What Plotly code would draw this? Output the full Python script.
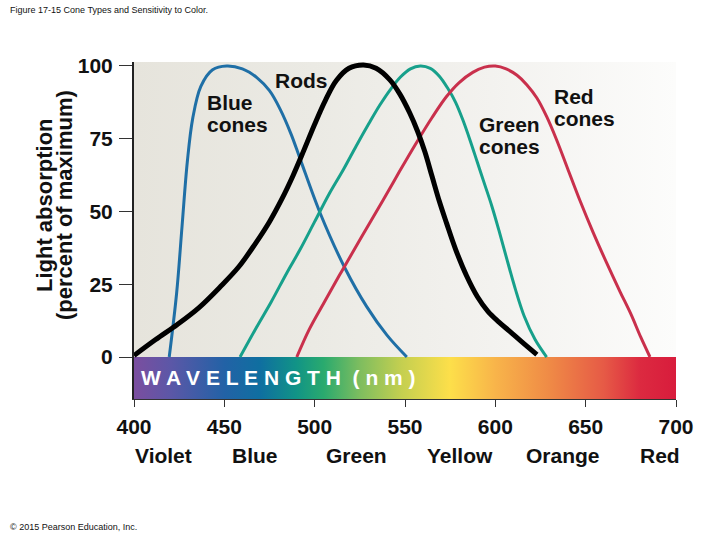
import plotly.graph_objects as go

# ---- data ----
blue_x = [419.5, 423.6, 426.6, 429.5, 432.5, 437.0, 443.5, 451.3, 460.0, 468.0, 475.0, 481.0,
          487.0, 492.0, 503.0, 516.8, 528.8, 540.0, 551.0]
blue_y = [0, 22.0, 45.0, 67.0, 82.0, 93.0, 98.7, 100, 99.0, 96.0, 91.5, 85.0,
          76.5, 68.0, 49.5, 30.5, 17.3, 7.5, 0]

rods_x = [400, 412, 424, 436, 448, 458, 467, 475, 482, 488, 494, 500, 506, 512, 519, 527,
          534, 541.5, 547, 552.5, 557, 561, 565, 569, 573, 578, 584, 590, 596, 602, 608, 615, 623]
rods_y = [0.5, 6.0, 11.2, 17.0, 24.3, 31.0, 38.8, 46.5, 54.5, 62.3, 71.0, 80.0, 88.3, 95.0,
          99.2, 100.3, 99.2, 95.3, 90.5, 84.0, 77.5, 70.5, 62.0, 53.5, 46.0, 37.0, 28.0, 20.8,
          15.6, 12.0, 8.8, 5.0, 0.8]

green_x = [458.7, 468, 476, 484.5, 492, 500, 508, 516, 523, 530, 536, 542, 547.5, 553, 558.5,
           564, 569, 573.5, 578, 582, 586, 590, 594, 598, 602, 606, 611, 616, 622, 628.4]
green_y = [0, 10.4, 19.0, 28.8, 37.0, 46.5, 56.0, 64.5, 72.5, 80.2, 86.5, 92.0, 96.2, 99.0, 100,
           99.2, 96.5, 92.5, 87.5, 81.5, 74.5, 67.0, 59.5, 52.0, 43.5, 34.5, 23.5, 14.0, 6.0, 0]

red_x = [490.1, 497, 505, 515, 526, 538, 547, 556.5, 565, 573, 580, 587.5, 594, 600, 606, 612,
         617.5, 623, 628.5, 634, 640, 647, 654, 661.5, 669, 675, 680.5, 685.6]
red_y = [0, 9.5, 18.5, 29.5, 41.3, 54.0, 63.8, 73.8, 82.3, 89.5, 94.3, 97.8, 99.6, 100, 99.0,
         96.8, 93.5, 89.0, 82.5, 74.5, 64.8, 53.5, 43.0, 32.5, 22.5, 14.8, 6.8, 0]

x_ticks = [400, 450, 500, 550, 600, 650, 700]
y_ticks = [0, 25, 50, 75, 100]
color_names = ["Violet", "Blue", "Green", "Yellow", "Orange", "Red"]
color_name_nm = [416.6, 466.8, 523.2, 580.7, 637.5, 691.0]

FONT = "Arial, Liberation Sans, sans-serif"
X0, X1 = 400, 700
Y0, Y1 = -14.43, 101.37

spectrum_scale = [
    [0.000, "#7b4e9f"], [0.067, "#5c57a7"], [0.167, "#2262a6"], [0.233, "#0f6fa0"],
    [0.300, "#119486"], [0.350, "#2aaa6e"], [0.417, "#7ebd5f"], [0.493, "#c4cf50"],
    [0.583, "#fddf4a"], [0.667, "#f8b44a"], [0.767, "#ef8a46"], [0.867, "#e65a46"],
    [0.933, "#dc2a40"], [1.000, "#d81c3c"],
]
bg_scale = [[0, "#e6e4dc"], [0.33, "#ebeae4"], [0.66, "#f3f2ef"], [1, "#fcfcfb"]]

fig = go.Figure()

# plot background gradient
fig.add_trace(go.Scatter(
    x=[X0, X1, X1, X0, X0], y=[0, 0, Y1, Y1, 0], mode="lines", fill="toself",
    line=dict(width=0), fillgradient=dict(type="horizontal", colorscale=bg_scale),
    hoverinfo="skip", showlegend=False))

# spectrum bar
fig.add_trace(go.Scatter(
    x=[X0, X1, X1, X0, X0], y=[Y0, Y0, 0, 0, Y0], mode="lines", fill="toself",
    line=dict(width=0), fillgradient=dict(type="horizontal", colorscale=spectrum_scale),
    hoverinfo="skip", showlegend=False))

curves = [
    (blue_x, blue_y, "#1f6fa6", 3),
    (green_x, green_y, "#17a08b", 3),
    (red_x, red_y, "#c9304c", 3),
    (rods_x, rods_y, "#000000", 5),
]
for xs, ys, col, w in curves:
    fig.add_trace(go.Scatter(x=xs, y=ys, mode="lines",
                             line=dict(color=col, width=w, shape="spline", smoothing=1.0),
                             hoverinfo="skip", showlegend=False))

ann = []
def lab(text, x, y, anchor="left", size=21, bold=True, color="#111", xref="x", yref="y", angle=0):
    ann.append(dict(text=f"<b>{text}</b>" if bold else text, x=x, y=y, xref=xref, yref=yref,
                    xanchor=anchor, yanchor="middle", showarrow=False, textangle=angle,
                    font=dict(family=FONT, size=size, color=color)))

lab("Rods", 476.8, 95.1)
lab("Blue", 439.5, 87.6)
lab("cones", 439.5, 79.8)
lab("Red", 631.2, 89.6)
lab("cones", 631.2, 81.9)
lab("Green", 589.9, 80.0)
lab("cones", 589.9, 72.4)

lab("W A V E L E N G T H  ( n m )", 403, -7.2, color="white", size=21)

for name, nm in zip(color_names, color_name_nm):
    lab(name, nm, -0.1677, anchor="center", yref="paper")

# y-axis title (two lines)
lab("Light absorption", (44 - 134) / 542, (399 - 205) / 337, anchor="center", size=22,
    xref="paper", yref="paper", angle=-90)
lab("(percent of maximum)", (64 - 134) / 542, (399 - 205) / 337, anchor="center", size=22,
    xref="paper", yref="paper", angle=-90)

ann.append(dict(text="Figure 17-15 Cone Types and Sensitivity to Color.",
                x=(8 - 134) / 542, y=(399 - 10) / 337, xref="paper", yref="paper",
                xanchor="left", yanchor="middle", showarrow=False,
                font=dict(family=FONT, size=9, color="#111")))
ann.append(dict(text="© 2015 Pearson Education, Inc.", x=(8 - 134) / 542, y=(399 - 527) / 337,
                xref="paper", yref="paper", xanchor="left", yanchor="middle", showarrow=False,
                font=dict(family=FONT, size=9, color="#111")))

fig.update_layout(
    width=720, height=540,
    margin=dict(l=134, r=44, t=62, b=141, autoexpand=False),
    paper_bgcolor="white", plot_bgcolor="white",
    annotations=ann,
    xaxis=dict(range=[X0, X1], tickvals=x_ticks, ticktext=[f"<b>{v}</b>" for v in x_ticks],
               ticks="outside", ticklen=7, tickwidth=1,
               tickcolor="#333", showline=True, linecolor="#333", linewidth=1,
               showgrid=False, zeroline=False, tickfont=dict(family=FONT, size=21, color="#111"),
               ticklabelstandoff=2),
    yaxis=dict(range=[Y0, Y1], tickvals=y_ticks, ticktext=[f"<b>{v}</b>" for v in y_ticks],
               ticks="outside", ticklen=13, tickwidth=1,
               tickcolor="#333", showline=True, linecolor="#222", linewidth=2,
               showgrid=False, zeroline=False, tickfont=dict(family=FONT, size=21, color="#111"),
               ticklabelstandoff=2),
)

fig.write_html("out.html")
